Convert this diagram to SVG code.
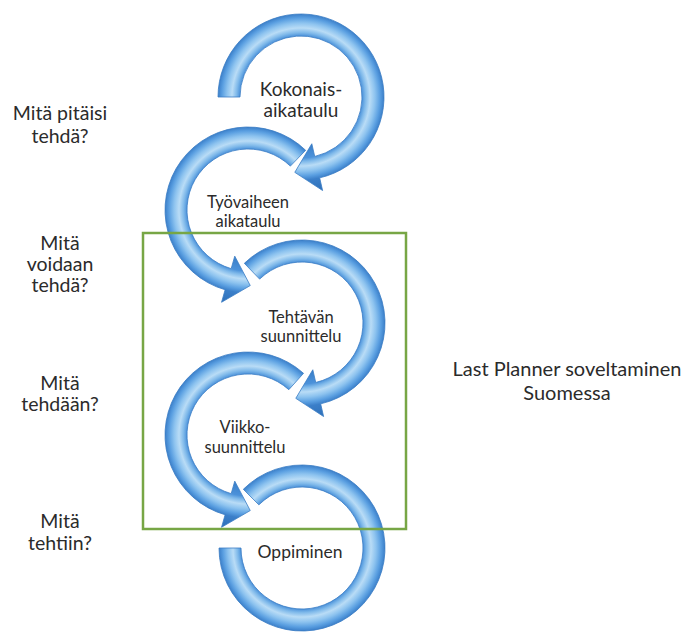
<svg xmlns="http://www.w3.org/2000/svg" width="682" height="637" viewBox="0 0 682 637">
  <defs>
    <!-- Bevelled tube shading, centred on each ring's own origin -->
    <radialGradient id="tube" gradientUnits="userSpaceOnUse" cx="0" cy="0" r="100">
      <stop offset="0.46" stop-color="#3479c4"/>
      <stop offset="0.61" stop-color="#4c92da"/>
      <stop offset="0.645" stop-color="#7fb9ea"/>
      <stop offset="0.69" stop-color="#b9dcf6"/>
      <stop offset="0.74" stop-color="#8dc3ef"/>
      <stop offset="0.79" stop-color="#5a9fe1"/>
      <stop offset="0.83" stop-color="#3b7fc9"/>
      <stop offset="0.98" stop-color="#2c6db6"/>
    </radialGradient>
    <style>
      .ring { fill: url(#tube); stroke: #3a7cc4; stroke-width: 0.8; stroke-linejoin: round; }
      .lbl { font-family: "Lato", "Open Sans", "Liberation Sans", sans-serif; fill: #2b2b2b; text-anchor: middle; }
      .q { font-size: 19.5px; }
      .cap { font-size: 20px; }
      .mid { font-size: 16.5px; }
      .frame { fill: none; stroke: #77a645; stroke-width: 2.5; }
    </style>
  </defs>

  <rect width="682" height="637" fill="#ffffff"/>

  <!-- Planning levels: curved arrows, each with its caption -->
  <g id="kokonaisaikataulu">
    <path class="ring" transform="translate(301,97)" d="M -83 0 A 83 83 0 1 1 18.67 80.87 L 21.60 93.54 L -6.21 75.33 L 10.80 46.76 L 13.72 59.44 A 61 61 0 1 0 -61 0 Z"/>
    <text class="lbl" x="301" y="96" font-size="19">Kokonais-</text>
    <text class="lbl" x="301" y="117" font-size="19">aikataulu</text>
  </g>

  <g id="tyovaiheen-aikataulu">
    <path class="ring" transform="translate(248,210)" d="M 57.66 -59.71 A 83 83 0 1 0 -22.88 79.79 L -26.46 92.28 L 2.26 75.55 L -13.24 46.14 L -16.81 58.64 A 61 61 0 1 1 42.37 -43.88 Z"/>
    <text class="lbl mid" x="248" y="208">Työvaiheen</text>
    <text class="lbl mid" x="248" y="227">aikataulu</text>
  </g>

  <g id="tehtavan-suunnittelu">
    <path class="ring" transform="translate(302,323)" d="M -57.66 -59.70 A 83 83 0 1 1 18.67 80.87 L 21.60 93.54 L -6.21 75.33 L 10.80 46.76 L 13.72 59.44 A 61 61 0 1 0 -42.38 -43.88 Z"/>
    <text class="lbl mid" x="301" y="323">Tehtävän</text>
    <text class="lbl mid" x="301" y="342">suunnittelu</text>
  </g>

  <g id="viikkosuunnittelu">
    <path class="ring" transform="translate(248,435)" d="M 55.54 -61.68 A 83 83 0 1 0 -22.88 79.79 L -26.46 92.28 L 2.26 75.55 L -13.24 46.14 L -16.81 58.64 A 61 61 0 1 1 40.82 -45.33 Z"/>
    <text class="lbl mid" x="245" y="433">Viikko-</text>
    <text class="lbl mid" x="245" y="453">suunnittelu</text>
  </g>

  <g id="oppiminen">
    <path class="ring" transform="translate(302,548)" d="M -58.69 -58.69 A 83 83 0 1 1 -83 0 L -61 0 A 61 61 0 1 0 -43.13 -43.13 Z"/>
    <text class="lbl" x="300" y="558" font-size="17.5">Oppiminen</text>
  </g>

  <!-- Frame around the levels covered by Last Planner -->
  <g id="last-planner-frame">
    <rect class="frame" x="143" y="233" width="263" height="296"/>
  </g>

  <!-- Questions down the left side -->
  <g id="kysymys-1">
    <text class="lbl q" x="60" y="120">Mitä pitäisi</text>
    <text class="lbl q" x="60" y="143">tehdä?</text>
  </g>
  <g id="kysymys-2">
    <text class="lbl q" x="60" y="250">Mitä</text>
    <text class="lbl q" x="60" y="271">voidaan</text>
    <text class="lbl q" x="60" y="292">tehdä?</text>
  </g>
  <g id="kysymys-3">
    <text class="lbl q" x="60" y="390">Mitä</text>
    <text class="lbl q" x="60" y="411">tehdään?</text>
  </g>
  <g id="kysymys-4">
    <text class="lbl q" x="60" y="528">Mitä</text>
    <text class="lbl q" x="60" y="550">tehtiin?</text>
  </g>

  <!-- Caption on the right -->
  <g id="otsikko">
    <text class="lbl cap" x="567" y="376">Last Planner soveltaminen</text>
    <text class="lbl cap" x="567" y="400">Suomessa</text>
  </g>
</svg>
